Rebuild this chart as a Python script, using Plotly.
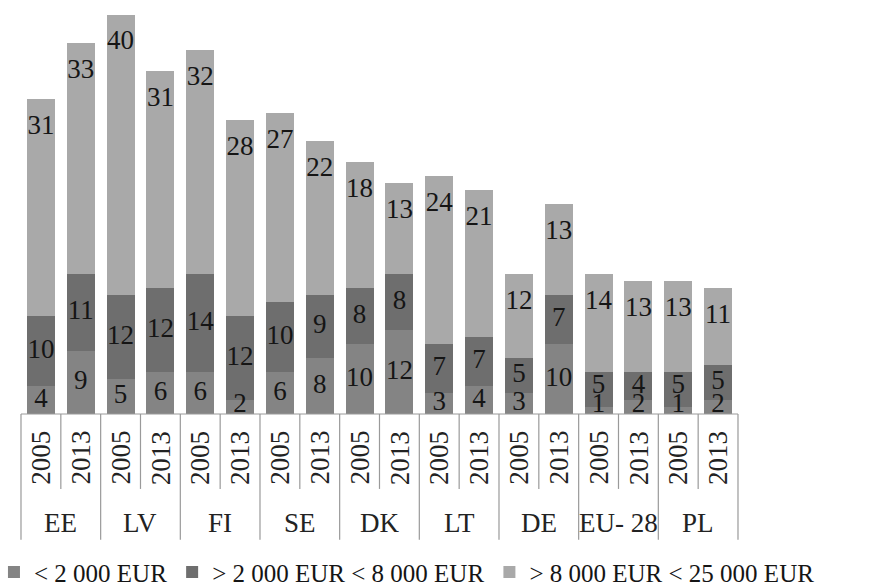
import plotly.graph_objects as go

# Countries and survey years
countries = ["EE", "LV", "FI", "SE", "DK", "LT", "DE", "EU- 28", "PL"]
years = ["2005", "2013"]

# Share of farms by standard output class (%)
below_2000 = [4, 9, 5, 6, 6, 2, 6, 8, 10, 12, 3, 4, 3, 10, 1, 2, 1, 2]
from_2000_to_8000 = [10, 11, 12, 12, 14, 12, 10, 9, 8, 8, 7, 7, 5, 7, 5, 4, 5, 5]
from_8000_to_25000 = [31, 33, 40, 31, 32, 28, 27, 22, 18, 13, 24, 21, 12, 13, 14, 13, 13, 11]

series_names = ["< 2 000 EUR", "> 2 000 EUR < 8 000 EUR", "> 8 000 EUR < 25 000 EUR"]
series_colors = ["#848484", "#6e6e6e", "#a9a9a9"]

categories = [f"{c} {y}" for c in countries for y in years]

FONT = "Liberation Serif, Tinos, Times New Roman, DejaVu Serif, Noto Serif, serif"
FS = 27
TXT = "#151515"

fig = go.Figure()
for name, vals, color in zip(series_names,
                             [below_2000, from_2000_to_8000, from_8000_to_25000],
                             series_colors):
    fig.add_trace(go.Bar(x=categories, y=vals, name=name,
                         marker=dict(color=color, line=dict(width=0)),
                         hoverinfo="x+y+name"))

# Value labels drawn on top of all bars so that labels of thin segments stay visible
top_total = [a + b + c for a, b, c in zip(below_2000, from_2000_to_8000, from_8000_to_25000)]
label_layers = [
    ([max(v / 2, 1.2) for v in below_2000], below_2000),
    ([max(b + v / 2, 4.0) for b, v in zip(below_2000, from_2000_to_8000)], from_2000_to_8000),
    ([t - 4.0 for t in top_total], from_8000_to_25000),
]
for ys, vals in label_layers:
    fig.add_trace(go.Scatter(x=categories, y=ys, mode="text",
                             text=[str(v) for v in vals], textposition="middle center",
                             textfont=dict(family=FONT, size=FS, color=TXT),
                             showlegend=False, hoverinfo="skip", cliponaxis=False))

# Table-style category axis: base line, year row and country row with separators
line_color = "#9a9a9a"
n = len(categories)
shapes = [dict(type="line", xref="x", yref="paper", x0=-0.5, x1=n - 0.5, y0=0, y1=0,
               line=dict(color=line_color, width=1.2))]
for k in range(n + 1):
    y_end = -0.304 if k % 2 == 0 else -0.181
    shapes.append(dict(type="line", xref="x", yref="paper",
                       x0=k - 0.5, x1=k - 0.5, y0=0, y1=y_end,
                       line=dict(color=line_color, width=1.2)))

annotations = []
for i, cat in enumerate(categories):
    annotations.append(dict(x=i, y=-0.106, xref="x", yref="paper",
                            text=cat.split(" ")[-1], textangle=-90, showarrow=False,
                            font=dict(family=FONT, size=FS, color="#222222"),
                            xanchor="center", yanchor="middle"))
for g, c in enumerate(countries):
    annotations.append(dict(x=2 * g + 0.5, y=-0.263, xref="x", yref="paper",
                            text=c, showarrow=False,
                            font=dict(family=FONT, size=FS, color="#222222"),
                            xanchor="center", yanchor="middle"))

# Plot area spans the full width; the x range leaves room right of the bars
x_range = [-1.027, 21.266]

fig.update_layout(
    width=888, height=587,
    margin=dict(l=0, r=0, t=0, b=173, autoexpand=False),
    barmode="stack", bargap=0.3,
    plot_bgcolor="white", paper_bgcolor="white",
    xaxis=dict(showticklabels=False, showline=False, showgrid=False, zeroline=False,
               range=x_range, fixedrange=True),
    yaxis=dict(visible=False, range=[0, 59.1]),
    shapes=shapes, annotations=annotations,
    showlegend=True,
    legend=dict(orientation="h", x=-0.0068, xanchor="left", y=-0.382,
                yanchor="middle", font=dict(family=FONT, size=25, color=TXT),
                itemwidth=30, tracegroupgap=0, traceorder="normal"),
)

fig.write_html("out.html")
